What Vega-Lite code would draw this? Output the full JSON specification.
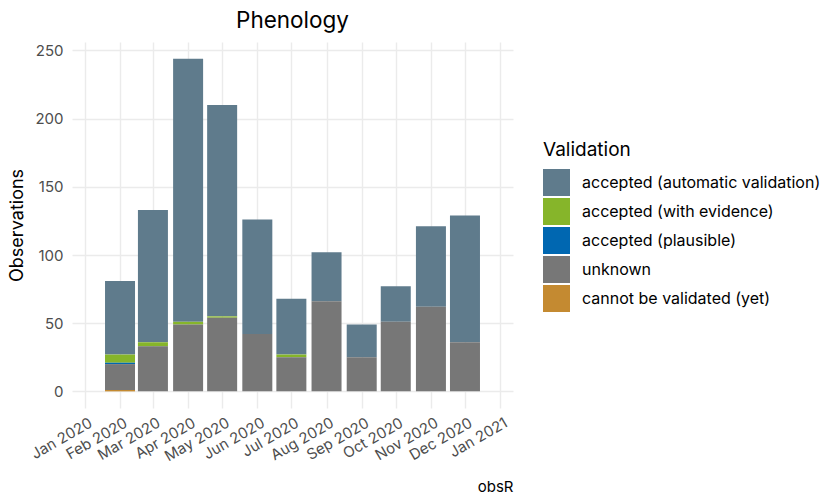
{
  "$schema": "https://vega.github.io/schema/vega-lite/v6.json",
  "autosize": {"type": "none"},
  "width": 441,
  "height": 366,
  "padding": {"left": 72, "top": 42, "right": 327, "bottom": 96},
  "background": "white",
  "title": {
    "text": "Phenology",
    "anchor": "middle",
    "frame": "group",
    "offset": 10,
    "fontSize": 22.5,
    "fontWeight": "normal",
    "font": "Inter",
    "color": "#000000"
  },
  "data": {
    "values": [
      {"date": "2020-02-01", "validation": "accepted (automatic validation)", "level": 1, "n": 54},
      {"date": "2020-02-01", "validation": "accepted (with evidence)", "level": 2, "n": 6},
      {"date": "2020-02-01", "validation": "accepted (plausible)", "level": 3, "n": 1},
      {"date": "2020-02-01", "validation": "unknown", "level": 4, "n": 19},
      {"date": "2020-02-01", "validation": "cannot be validated (yet)", "level": 5, "n": 1},
      {"date": "2020-03-01", "validation": "accepted (automatic validation)", "level": 1, "n": 97},
      {"date": "2020-03-01", "validation": "accepted (with evidence)", "level": 2, "n": 3},
      {"date": "2020-03-01", "validation": "unknown", "level": 4, "n": 33},
      {"date": "2020-04-01", "validation": "accepted (automatic validation)", "level": 1, "n": 193},
      {"date": "2020-04-01", "validation": "accepted (with evidence)", "level": 2, "n": 2},
      {"date": "2020-04-01", "validation": "unknown", "level": 4, "n": 49},
      {"date": "2020-05-01", "validation": "accepted (automatic validation)", "level": 1, "n": 155},
      {"date": "2020-05-01", "validation": "accepted (with evidence)", "level": 2, "n": 1},
      {"date": "2020-05-01", "validation": "unknown", "level": 4, "n": 54},
      {"date": "2020-06-01", "validation": "accepted (automatic validation)", "level": 1, "n": 84},
      {"date": "2020-06-01", "validation": "unknown", "level": 4, "n": 42},
      {"date": "2020-07-01", "validation": "accepted (automatic validation)", "level": 1, "n": 41},
      {"date": "2020-07-01", "validation": "accepted (with evidence)", "level": 2, "n": 2},
      {"date": "2020-07-01", "validation": "unknown", "level": 4, "n": 25},
      {"date": "2020-08-01", "validation": "accepted (automatic validation)", "level": 1, "n": 36},
      {"date": "2020-08-01", "validation": "unknown", "level": 4, "n": 66},
      {"date": "2020-09-01", "validation": "accepted (automatic validation)", "level": 1, "n": 24},
      {"date": "2020-09-01", "validation": "unknown", "level": 4, "n": 25},
      {"date": "2020-10-01", "validation": "accepted (automatic validation)", "level": 1, "n": 26},
      {"date": "2020-10-01", "validation": "unknown", "level": 4, "n": 51},
      {"date": "2020-11-01", "validation": "accepted (automatic validation)", "level": 1, "n": 59},
      {"date": "2020-11-01", "validation": "unknown", "level": 4, "n": 62},
      {"date": "2020-12-01", "validation": "accepted (automatic validation)", "level": 1, "n": 93},
      {"date": "2020-12-01", "validation": "unknown", "level": 4, "n": 36}
    ]
  },
  "mark": {"type": "bar", "size": 30},
  "encoding": {
    "x": {
      "field": "date",
      "type": "temporal",
      "scale": {
        "type": "utc",
        "domain": [
          {"year": 2019, "month": 12, "date": 25, "hours": 2, "utc": true},
          {"year": 2021, "month": 1, "date": 7, "hours": 22, "utc": true}
        ]
      },
      "axis": {
        "title": "obsR",
        "titleAnchor": "end",
        "titleAlign": "right",
        "titleBaseline": "alphabetic",
        "titleY": 83,
        "titleFontSize": 15,
        "titleFontWeight": "normal",
        "titleFont": "Inter",
        "titleColor": "#000000",
        "format": "%b %Y",
        "tickCount": {"interval": "month", "step": 1},
        "labelAngle": -30,
        "labelAlign": "right",
        "labelBaseline": "top",
        "labelPadding": 7,
        "labelOffset": 2,
        "labelFontSize": 15,
        "labelFont": "Inter",
        "labelColor": "#4d4d4d",
        "labelOverlap": false,
        "labelFlush": false,
        "ticks": false,
        "tickSize": 0,
        "domain": false,
        "grid": true,
        "gridColor": "#ebebeb",
        "gridWidth": 1.4
      }
    },
    "y": {
      "field": "n",
      "type": "quantitative",
      "stack": "zero",
      "scale": {"domain": [-12.2, 256.2], "nice": false, "zero": false},
      "axis": {
        "title": "Observations",
        "titleFontSize": 18,
        "titleFontWeight": "normal",
        "titleFont": "Inter",
        "titleColor": "#000000",
        "titlePadding": 8,
        "values": [0, 50, 100, 150, 200, 250],
        "labelFontSize": 15,
        "labelFont": "Inter",
        "labelColor": "#4d4d4d",
        "labelPadding": 9,
        "ticks": false,
        "tickSize": 0,
        "domain": false,
        "grid": true,
        "gridColor": "#ebebeb",
        "gridWidth": 1.4
      }
    },
    "order": {"field": "level", "type": "quantitative", "sort": "descending"},
    "color": {
      "field": "validation",
      "type": "nominal",
      "scale": {
        "domain": ["accepted (automatic validation)", "accepted (with evidence)", "accepted (plausible)", "unknown", "cannot be validated (yet)"],
        "range": ["#5f7b8c", "#86b52a", "#0067b1", "#777777", "#c48a31"]
      },
      "legend": {
        "title": "Validation",
        "orient": "none",
        "legendX": 471,
        "legendY": 99,
        "titleFontSize": 19,
        "titleFontWeight": "normal",
        "titleFont": "Inter",
        "titleColor": "#000000",
        "titlePadding": 9,
        "labelFontSize": 16,
        "labelFont": "Inter",
        "labelColor": "#000000",
        "labelOffset": 12,
        "symbolType": "square",
        "symbolSize": 729,
        "symbolStrokeWidth": 0,
        "symbolOpacity": 1,
        "rowPadding": 2,
        "labelLimit": 400
      }
    }
  },
  "config": {
    "view": {"stroke": null},
    "font": "Inter"
  }
}
